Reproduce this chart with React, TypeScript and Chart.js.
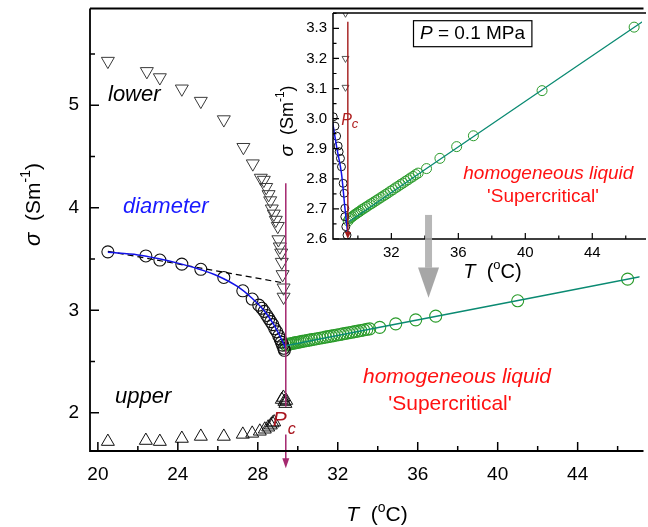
import React, { useEffect, useRef } from "react";
import { Chart, registerables } from "chart.js";

Chart.register(...registerables);

const FONT = '"Liberation Sans", Arial, Helvetica, sans-serif';

// ---------------- main panel data ----------------
const lowerT = [20.5, 22.45, 23.1, 24.2, 25.15, 26.3, 27.28, 27.75, 28.15, 28.3, 28.42, 28.54, 28.62, 28.7, 28.8, 28.9, 29.0, 29.03, 29.1, 29.17, 29.2, 29.24, 29.29, 29.29];
const lowerS = [5.43, 5.33, 5.27, 5.16, 5.04, 4.86, 4.59, 4.43, 4.29, 4.27, 4.2, 4.13, 4.07, 3.99, 3.94, 3.88, 3.82, 3.69, 3.62, 3.56, 3.47, 3.35, 3.22, 3.13];

const upperT = [20.5, 22.4, 23.1, 24.2, 25.15, 26.3, 27.25, 27.72, 28.1, 28.35, 28.52, 28.65, 28.74, 28.82, 29.2, 29.28, 29.33, 29.38, 29.42];
const upperS = [1.72, 1.73, 1.72, 1.75, 1.77, 1.77, 1.79, 1.8, 1.82, 1.84, 1.86, 1.88, 1.9, 1.91, 2.13, 2.15, 2.11, 2.09, 2.12];

const circT = [20.5, 22.4, 23.1, 24.2, 25.15, 26.3, 27.25, 27.72, 28.05, 28.2, 28.32, 28.45, 28.55, 28.65, 28.75, 28.85, 28.95, 29.05, 29.12, 29.18, 29.24, 29.3, 29.33];
const circS = [3.57, 3.53, 3.49, 3.45, 3.4, 3.32, 3.19, 3.11, 3.05, 3.02, 2.99, 2.95, 2.92, 2.89, 2.86, 2.82, 2.79, 2.75, 2.72, 2.69, 2.66, 2.63, 2.61];

const blueT = [20.5, 22, 23, 24, 25, 26, 27, 27.7, 28.3, 28.8, 29.1, 29.3, 29.4];
const blueS = [3.565, 3.54, 3.505, 3.46, 3.405, 3.335, 3.23, 3.12, 3.0, 2.86, 2.75, 2.67, 2.62];

const diamT = [20.5, 29.2];
const diamS = [3.575, 3.27];

// shared homogeneous-liquid branch
const greenT = [29.42, 29.5, 29.58, 29.66, 29.75, 29.84, 29.93, 30.02, 30.12, 30.22, 30.33, 30.45, 30.57, 30.7, 30.83, 30.96, 31.1, 31.24, 31.38, 31.52, 31.66, 31.8, 31.95, 32.1, 32.25, 32.4, 32.55, 32.7, 32.85, 33.0, 33.15, 33.3, 33.45, 33.6, 34.1, 34.9, 35.9, 36.9, 41.0, 46.5];
const greenS = [2.66, 2.668, 2.671, 2.674, 2.678, 2.682, 2.685, 2.689, 2.692, 2.697, 2.7, 2.705, 2.709, 2.714, 2.718, 2.723, 2.728, 2.733, 2.738, 2.743, 2.748, 2.753, 2.759, 2.764, 2.77, 2.775, 2.781, 2.786, 2.792, 2.797, 2.803, 2.808, 2.814, 2.819, 2.834, 2.868, 2.907, 2.943, 3.093, 3.304];
const greenFitT = [29.4, 34.1, 47.2];
const greenFitS = [2.655, 2.834, 3.33];

const Tc = 29.4;

const mainXTicks = [20, 24, 28, 32, 36, 40, 44];
const mainXMinor = [22, 26, 30, 34, 38, 42, 46];
const mainYTicks = [2, 3, 4, 5];
const mainYMinor = [2.5, 3.5, 4.5, 5.5];

// ---------------- inset data ----------------
const inLowerT = [29.26, 29.26, 29.26];
const inLowerS = [3.35, 3.2, 3.104];
const inCircT = [28.53, 28.63, 28.73, 28.82, 28.88, 28.96, 29.02, 29.12, 29.18, 29.22, 29.22, 29.28, 29.35];
const inCircS = [3.006, 2.975, 2.942, 2.909, 2.89, 2.868, 2.84, 2.785, 2.752, 2.702, 2.674, 2.641, 2.613];
const inBlueT = [28.5, 28.75, 29.02, 29.22, 29.38];
const inBlueS = [2.985, 2.9, 2.818, 2.707, 2.624];

const inXTicks = [32, 36, 40, 44];
const inXMinor = [30, 34, 38, 42, 46];
const inYTicks = [2.6, 2.7, 2.8, 2.9, 3.0, 3.1, 3.2, 3.3];
const inYMinor = [2.65, 2.75, 2.85, 2.95, 3.05, 3.15, 3.25, 3.35];

// ---------------- helpers ----------------
const pts = (xs: number[], ys: number[]) => xs.map((x, i) => ({ x, y: ys[i] }));

const markers = (xs: number[], ys: number[], style: string, color: string, r: number, rot = 0, bw = 1) => ({
  data: pts(xs, ys),
  showLine: false,
  pointStyle: style,
  pointRadius: r,
  pointHoverRadius: r,
  pointRotation: rot,
  pointBorderColor: color,
  pointBackgroundColor: "rgba(0,0,0,0)",
  pointBorderWidth: bw,
  borderColor: color,
  backgroundColor: "rgba(0,0,0,0)",
});

const curve = (xs: number[], ys: number[], color: string, w: number, dash: number[] = []) => ({
  data: pts(xs, ys),
  showLine: true,
  pointRadius: 0,
  pointHoverRadius: 0,
  borderColor: color,
  backgroundColor: color,
  borderWidth: w,
  borderDash: dash,
  cubicInterpolationMode: "monotone",
  fill: false,
});

type Seg = { t: string; font: string; dy?: number };

function drawRich(ctx: CanvasRenderingContext2D, segs: Seg[], x: number, y: number, align: string, color: string) {
  let w = 0;
  for (const s of segs) {
    ctx.font = s.font;
    w += ctx.measureText(s.t).width;
  }
  let cx = align === "center" ? x - w / 2 : align === "right" ? x - w : x;
  ctx.textAlign = "left";
  ctx.fillStyle = color;
  for (const s of segs) {
    ctx.font = s.font;
    ctx.fillText(s.t, cx, y + (s.dy || 0));
    cx += ctx.measureText(s.t).width;
  }
}

type AxisOpts = {
  xMajor: number[];
  xMinor: number[];
  yMajor: number[];
  yMinor: number[];
  lw: number;
  major: number;
  minor: number;
  fs: number;
  xOff: number;
  yOff: number;
  fmt: (v: number) => string;
};

function drawAxes(chart: any, o: AxisOpts) {
  const { ctx, chartArea: a } = chart;
  const xs = chart.scales.x;
  const ys = chart.scales.y;
  ctx.save();
  ctx.strokeStyle = "#000";
  ctx.lineWidth = o.lw;
  ctx.beginPath();
  ctx.moveTo(a.left, a.top);
  ctx.lineTo(a.right + 4, a.top);
  ctx.moveTo(a.left, a.top);
  ctx.lineTo(a.left, a.bottom);
  ctx.lineTo(a.right + 4, a.bottom);
  ctx.stroke();
  ctx.lineWidth = Math.max(1, o.lw - 0.3);
  ctx.beginPath();
  for (const v of o.xMajor) {
    const p = xs.getPixelForValue(v);
    ctx.moveTo(p, a.bottom);
    ctx.lineTo(p, a.bottom - o.major);
  }
  for (const v of o.xMinor) {
    const p = xs.getPixelForValue(v);
    if (p > a.right) continue;
    ctx.moveTo(p, a.bottom);
    ctx.lineTo(p, a.bottom - o.minor);
  }
  for (const v of o.yMajor) {
    const p = ys.getPixelForValue(v);
    ctx.moveTo(a.left, p);
    ctx.lineTo(a.left + o.major, p);
  }
  for (const v of o.yMinor) {
    const p = ys.getPixelForValue(v);
    if (p < a.top) continue;
    ctx.moveTo(a.left, p);
    ctx.lineTo(a.left + o.minor, p);
  }
  ctx.stroke();
  ctx.fillStyle = "#000";
  ctx.font = `${o.fs}px ${FONT}`;
  ctx.textBaseline = "middle";
  ctx.textAlign = "center";
  for (const v of o.xMajor) ctx.fillText(String(v), xs.getPixelForValue(v), a.bottom + o.xOff);
  ctx.textAlign = "right";
  for (const v of o.yMajor) ctx.fillText(o.fmt(v), a.left - o.yOff, ys.getPixelForValue(v));
  ctx.restore();
}

function arrowDown(ctx: CanvasRenderingContext2D, x: number, tip: number, w: number, h: number, color: string) {
  ctx.fillStyle = color;
  ctx.beginPath();
  ctx.moveTo(x - w / 2, tip - h);
  ctx.lineTo(x + w / 2, tip - h);
  ctx.lineTo(x, tip);
  ctx.closePath();
  ctx.fill();
}

const mainPlugin = {
  id: "mainDeco",
  beforeDraw(chart: any) {
    const { ctx, width, height } = chart;
    ctx.save();
    ctx.fillStyle = "#fff";
    ctx.fillRect(0, 0, width, height);
    ctx.restore();
  },
  afterDatasetsDraw(chart: any) {
    const { ctx } = chart;
    const xs = chart.scales.x;
    const ys = chart.scales.y;
    const xc = xs.getPixelForValue(Tc);
    ctx.save();
    const col = "#a5286f";
    ctx.strokeStyle = col;
    ctx.lineWidth = 1.5;
    ctx.beginPath();
    ctx.moveTo(xc, ys.getPixelForValue(4.24));
    ctx.lineTo(xc, ys.getPixelForValue(2.06));
    ctx.moveTo(xc, ys.getPixelForValue(1.79));
    ctx.lineTo(xc, ys.getPixelForValue(1.5));
    ctx.stroke();
    arrowDown(ctx, xc, ys.getPixelForValue(1.46), 7, 10, col);
    // P_c label
    ctx.textBaseline = "alphabetic";
    ctx.fillStyle = "#a8141e";
    ctx.font = `italic 21px ${FONT}`;
    ctx.textAlign = "right";
    ctx.fillText("P", xc + 1, ys.getPixelForValue(1.87));
    ctx.font = `italic 16px ${FONT}`;
    ctx.textAlign = "left";
    ctx.fillText("c", xc + 2, ys.getPixelForValue(1.79));
    ctx.restore();
  },
  afterDraw(chart: any) {
    const { ctx } = chart;
    drawAxes(chart, {
      xMajor: mainXTicks,
      xMinor: mainXMinor,
      yMajor: mainYTicks,
      yMinor: mainYMinor,
      lw: 1.8,
      major: 9,
      minor: 5,
      fs: 19,
      xOff: 23.5,
      yOff: 11,
      fmt: (v) => String(v),
    });
    ctx.save();
    ctx.textBaseline = "alphabetic";
    drawRich(
      ctx,
      [
        { t: "T", font: `italic 21px ${FONT}` },
        { t: "  (", font: `21px ${FONT}` },
        { t: "o", font: `14px ${FONT}`, dy: -9 },
        { t: "C)", font: `21px ${FONT}` },
      ],
      377,
      521,
      "center",
      "#000"
    );
    ctx.translate(34, 204.5);
    ctx.rotate(-Math.PI / 2);
    ctx.textBaseline = "middle";
    drawRich(
      ctx,
      [
        { t: "\u03c3", font: `italic 22px ${FONT}` },
        { t: "  (Sm", font: `21px ${FONT}` },
        { t: "-1", font: `14px ${FONT}`, dy: -8 },
        { t: ")", font: `21px ${FONT}` },
      ],
      0,
      0,
      "center",
      "#000"
    );
    ctx.restore();

    ctx.save();
    ctx.textBaseline = "middle";
    ctx.textAlign = "left";
    ctx.font = `italic 22px ${FONT}`;
    ctx.fillStyle = "#000";
    ctx.fillText("lower", 108, 95);
    ctx.fillText("upper", 115, 397);
    ctx.fillStyle = "#1a1aff";
    ctx.fillText("diameter", 123, 207);
    ctx.fillStyle = "#ff1111";
    ctx.textAlign = "center";
    ctx.font = `italic 21px ${FONT}`;
    ctx.fillText("homogeneous liquid", 457, 377);
    ctx.font = `21px ${FONT}`;
    ctx.fillText("'Supercritical'", 450, 404);
    ctx.restore();
  },
};

const insetPlugin = {
  id: "insetDeco",
  beforeDraw(chart: any) {
    const { ctx, chartArea: a } = chart;
    ctx.save();
    ctx.fillStyle = "#fff";
    ctx.fillRect(a.left, a.top, a.right - a.left + 4, a.bottom - a.top);
    ctx.restore();
  },
  afterDatasetsDraw(chart: any) {
    const { ctx } = chart;
    const xs = chart.scales.x;
    const ys = chart.scales.y;
    const xc = xs.getPixelForValue(Tc);
    ctx.save();
    const col = "#a31a1a";
    ctx.strokeStyle = col;
    ctx.lineWidth = 1.4;
    ctx.beginPath();
    ctx.moveTo(xc, ys.getPixelForValue(3.322));
    ctx.lineTo(xc, ys.getPixelForValue(2.615));
    ctx.stroke();
    arrowDown(ctx, xc, ys.getPixelForValue(2.6), 6, 7, col);
    ctx.textBaseline = "alphabetic";
    ctx.fillStyle = "#b02020";
    ctx.font = `italic 16px ${FONT}`;
    ctx.textAlign = "right";
    ctx.fillText("P", xc + 4, ys.getPixelForValue(2.98));
    ctx.font = `italic 13px ${FONT}`;
    ctx.textAlign = "left";
    ctx.fillText("c", xc + 4, ys.getPixelForValue(2.97));
    ctx.restore();
  },
  afterDraw(chart: any) {
    const { ctx } = chart;
    const xs = chart.scales.x;
    const ys = chart.scales.y;
    drawAxes(chart, {
      xMajor: inXTicks,
      xMinor: inXMinor,
      yMajor: inYTicks,
      yMinor: inYMinor,
      lw: 1.5,
      major: 6,
      minor: 3.5,
      fs: 15,
      xOff: 14,
      yOff: 6,
      fmt: (v) => v.toFixed(1),
    });
    ctx.save();
    // gray arrow pointing to main panel
    const ax = xs.getPixelForValue(34.22);
    const yTop = ys.getPixelForValue(2.68);
    const yNeck = ys.getPixelForValue(2.505);
    const yTip = ys.getPixelForValue(2.405);
    ctx.fillStyle = "rgba(170,170,170,0.85)";
    ctx.fillRect(ax - 3.5, yTop, 7, yNeck - yTop);
    ctx.fillStyle = "rgba(150,150,150,0.85)";
    ctx.beginPath();
    ctx.moveTo(ax - 10.5, yNeck);
    ctx.lineTo(ax + 10.5, yNeck);
    ctx.lineTo(ax, yTip);
    ctx.closePath();
    ctx.fill();

    ctx.textBaseline = "alphabetic";
    drawRich(
      ctx,
      [
        { t: "T", font: `italic 20px ${FONT}` },
        { t: "  (", font: `20px ${FONT}` },
        { t: "o", font: `13px ${FONT}`, dy: -9 },
        { t: "C)", font: `20px ${FONT}` },
      ],
      232.5,
      278,
      "center",
      "#000"
    );
    ctx.save();
    ctx.translate(28, 121);
    ctx.rotate(-Math.PI / 2);
    ctx.textBaseline = "middle";
    drawRich(
      ctx,
      [
        { t: "\u03c3", font: `italic 19px ${FONT}` },
        { t: "  (Sm", font: `18px ${FONT}` },
        { t: "-1", font: `12px ${FONT}`, dy: -7 },
        { t: ")", font: `18px ${FONT}` },
      ],
      0,
      0,
      "center",
      "#000"
    );
    ctx.restore();

    // P = 0.1 MPa box
    ctx.strokeStyle = "#000";
    ctx.lineWidth = 1.2;
    ctx.strokeRect(153.5, 20.7, 118.4, 26);
    ctx.textBaseline = "middle";
    drawRich(
      ctx,
      [
        { t: "P", font: `italic 19px ${FONT}` },
        { t: " = 0.1 MPa", font: `19px ${FONT}` },
      ],
      212.5,
      34,
      "center",
      "#000"
    );

    ctx.fillStyle = "#ff1111";
    ctx.textAlign = "center";
    ctx.font = `italic 19px ${FONT}`;
    ctx.fillText("homogeneous liquid", 288.3, 173.5);
    ctx.font = `19px ${FONT}`;
    ctx.fillText("'Supercritical'", 283, 197);
    ctx.restore();
  },
};

const baseOptions = (xmin: number, xmax: number, ymin: number, ymax: number, padding: any) => ({
  responsive: false,
  maintainAspectRatio: false,
  animation: false,
  events: [],
  layout: { padding },
  plugins: { legend: { display: false }, tooltip: { enabled: false }, title: { display: false } },
  scales: {
    x: { type: "linear", min: xmin, max: xmax, display: false },
    y: { type: "linear", min: ymin, max: ymax, display: false },
  },
});

const GREEN_PT = "#2b9c2b";
const GREEN_LN = "#0a8a72";
const BLUE = "#1212e6";

export default function App() {
  const mainRef = useRef<HTMLCanvasElement | null>(null);
  const insetRef = useRef<HTMLCanvasElement | null>(null);

  useEffect(() => {
    const main = new Chart(mainRef.current as HTMLCanvasElement, {
      type: "scatter",
      data: {
        datasets: [
          curve(blueT, blueS, BLUE, 1.5),
          curve(diamT, diamS, "#000", 1.2, [6, 4]),
          curve(greenFitT, greenFitS, GREEN_LN, 1.5),
          markers(circT, circS, "circle", "#111", 6, 0, 1.1),
          markers(greenT, greenS, "circle", GREEN_PT, 6, 0, 1.1),
          markers(lowerT, lowerS, "triangle", "#3a3a3a", 7.5, 180, 1),
          markers(upperT, upperS, "triangle", "#111", 7.5, 0, 1),
        ] as any,
      },
      options: baseOptions(19.606, 47.094, 1.628, 5.943, { left: 90, top: 7, right: 0, bottom: 76 }) as any,
      plugins: [mainPlugin],
    });

    const inset = new Chart(insetRef.current as HTMLCanvasElement, {
      type: "scatter",
      data: {
        datasets: [
          curve(inBlueT, inBlueS, BLUE, 1.5),
          curve(greenFitT, greenFitS, GREEN_LN, 1.3),
          markers(inCircT, inCircS, "circle", "#111", 4, 0, 1),
          markers(greenT, greenS, "circle", GREEN_PT, 5, 0, 1),
          markers(inLowerT, inLowerS, "triangle", "#555", 4, 180, 1),
        ] as any,
      },
      options: baseOptions(28.514, 46.97, 2.6, 3.351, { left: 73, top: 13, right: 0, bottom: 61 }) as any,
      plugins: [insetPlugin],
    });

    return () => {
      main.destroy();
      inset.destroy();
    };
  }, []);

  return (
    <div style={{ position: "absolute", left: 0, top: 0, width: 648, height: 527, overflow: "hidden", background: "#fff" }}>
      <canvas ref={mainRef} width={648} height={527} style={{ position: "absolute", left: 0, top: 0, width: 648, height: 527 }} />
      <canvas ref={insetRef} width={388} height={300} style={{ position: "absolute", left: 260, top: 0, width: 388, height: 300 }} />
    </div>
  );
}
